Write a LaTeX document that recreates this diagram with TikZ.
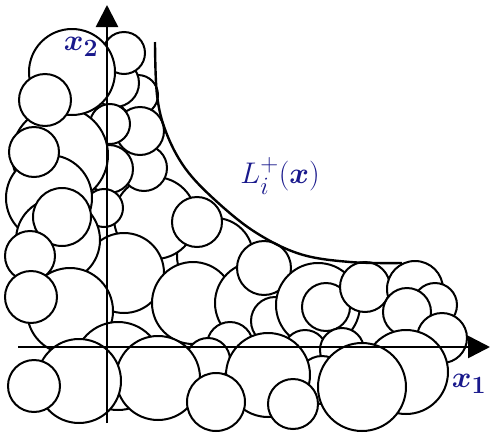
\documentclass[tikz,border=0pt]{standalone}
\usepackage{amsmath}
\usetikzlibrary{arrows.meta}
\definecolor{labelblue}{RGB}{25,25,140}
\begin{document}
\begin{tikzpicture}[
  x=1pt, y=-1pt,
  ball/.style={draw, fill=white, line width=2pt},
  axis/.style={line width=2.6pt, -{Triangle[length=22pt, width=22pt]}},
  bound/.style={line width=2.4pt},
  axlabel/.style={text=labelblue, font=\Huge, scale=1.2, transform shape, inner sep=0pt}
]
\useasboundingbox (0,0) rectangle (491,432);

% Back circles, right of the x2 axis
\draw[ball] (215,256) circle[radius=38pt];
\draw[ball] (155,218) circle[radius=41pt];
\draw[ball] (144,168) circle[radius=23pt];
\draw[ball] (138,95) circle[radius=20pt];
\draw[ball] (140,131) circle[radius=24pt];
\draw[ball] (115,83) circle[radius=24pt];
\draw[ball] (124,53) circle[radius=21pt];
\draw[ball] (110,124) circle[radius=20pt];
\draw[ball] (109,169) circle[radius=24pt];
\draw[ball] (104,208) circle[radius=19pt];
\draw[ball] (124,273) circle[radius=40pt];

% Left column
\draw[ball] (60,155) circle[radius=48pt];
\draw[ball] (49,198) circle[radius=43pt];
\draw[ball] (58,240) circle[radius=42pt];
\draw[ball] (72,72) circle[radius=43pt];
\draw[ball] (45,100) circle[radius=26pt];
\draw[ball] (34,152) circle[radius=25pt];
\draw[ball] (62,217) circle[radius=29pt];
\draw[ball] (30,256) circle[radius=25pt];
\draw[ball] (70,311) circle[radius=43pt];
\draw[ball] (31,297) circle[radius=26pt];

% Middle
\draw[ball] (197,222) circle[radius=25pt];
\draw[ball] (193,303) circle[radius=41pt];
\draw[ball] (256,303) circle[radius=41pt];
\draw[ball] (264,268) circle[radius=27pt];
\draw[ball] (275,321) circle[radius=24pt];

% Right group under the bound
\draw[ball] (318,305) circle[radius=42pt];
\draw[ball] (326,307) circle[radius=24pt];
\draw[ball] (365,287) circle[radius=25pt];
\draw[ball] (415,289) circle[radius=28pt];
\draw[ball] (435,305) circle[radius=22pt];
\draw[ball] (407,312) circle[radius=24pt];
\draw[ball] (442,338) circle[radius=25pt];

% Bottom row
\draw[ball] (118,366) circle[radius=44pt];
\draw[ball] (230,345) circle[radius=23pt];
\draw[ball] (208,360) circle[radius=22pt];
\draw[ball] (305,352) circle[radius=22pt];
\draw[ball] (342,350) circle[radius=22pt];
\draw[ball] (322,380) circle[radius=24pt];
\draw[ball] (406,372) circle[radius=42pt];
\draw[ball] (158,378) circle[radius=42pt];
\draw[ball] (268,375) circle[radius=42pt];
\draw[ball] (216,402) circle[radius=29pt];
\draw[ball] (293,404) circle[radius=25pt];
\draw[ball] (362,387) circle[radius=44pt];
\draw[ball] (79,381) circle[radius=42pt];
\draw[ball] (34,386) circle[radius=26pt];

% Bound L_i^+
\draw[bound] plot[smooth, tension=0.6] coordinates {(155,42) (157,95) (166,132)
  (185,168) (215,200) (255,232) (300,254) (350,262) (402,263)};

% Axes
\coordinate (o1) at (18,347);
\coordinate (e1) at (490,347);
\coordinate (o2) at (107,423);
\coordinate (e2) at (107,5);
\draw[axis] (o1) -- (e1);
\draw[axis] (o2) -- (e2);

% Labels
\node[axlabel] (lx1) at (469,384) {$\boldsymbol{x}_{\mathbf{1}}$};
\node[axlabel] (lx2) at (81,47) {$\boldsymbol{x}_{\mathbf{2}}$};
\node[axlabel] (lbound) at (280,176) {$L_i^+(\boldsymbol{x})$};

\end{tikzpicture}
\end{document}
